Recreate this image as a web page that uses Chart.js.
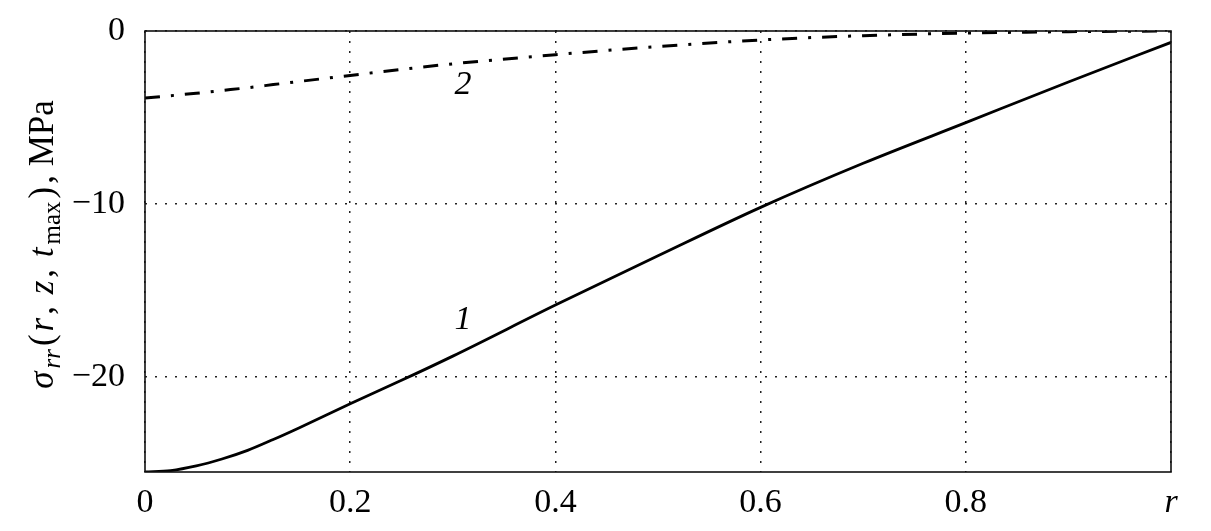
<!DOCTYPE html>
<html>
<head>
<meta charset="utf-8">
<script src="https://cdn.jsdelivr.net/npm/chart.js@4.4.0/dist/chart.umd.min.js"></script>
<style>
  html, body { margin: 0; padding: 0; background: #fff; }
  #wrap { width: 1211px; height: 531px; }
</style>
</head>
<body>
<div id="wrap"><canvas id="stressChart"></canvas></div>
<script>
// radius values (dimensionless)
const rValues = [0, 0.025, 0.05, 0.075, 0.1, 0.125, 0.15, 0.2, 0.25, 0.3, 0.4, 0.5, 0.6, 0.7, 0.8, 0.9, 1];
// curve 1, solid
const sigma1 = [-25.5, -25.42, -25.15, -24.75, -24.25, -23.62, -22.95, -21.55, -20.2, -18.8, -15.85, -13.0, -10.2, -7.65, -5.3, -2.95, -0.66];
// curve 2, dash-dot
const sigma2 = [-3.88, -3.74, -3.6, -3.44, -3.28, -3.1, -2.92, -2.57, -2.22, -1.9, -1.37, -0.9, -0.52, -0.27, -0.12, -0.04, 0];

const xTicks = [0, 0.2, 0.4, 0.6, 0.8, 1];
const yTicks = [-20, -10, 0];
const curveLabels = [
    { text: '1', r: 0.31, v: -16.7 },
    { text: '2', r: 0.31, v: -3.1 }
];

const serif = "'Liberation Serif', 'DejaVu Serif', serif";
const dotted = [2, 8];

function toPoints(vals) {
    return rValues.map((r, i) => ({ x: r, y: vals[i] }));
}

// no extra room for overflowing tick labels, the layout padding decides
function noOverflow(s) {
    s.paddingTop = 0;
    s.paddingBottom = 0;
    s.paddingLeft = 0;
    s.paddingRight = 0;
}

// box around the plot, labels of curves and the y title with subscripts
const decorPlugin = {
    id: 'decor',
    afterDatasetsDraw(chart) {
        const ctx = chart.ctx;
        const a = chart.chartArea;
        const xs = chart.scales.x, ys = chart.scales.y;

        ctx.save();
        ctx.strokeStyle = '#111';
        ctx.lineWidth = 1.6;
        ctx.strokeRect(a.left, a.top, a.right - a.left, a.bottom - a.top);

        ctx.fillStyle = '#000';
        ctx.font = 'italic 34px ' + serif;
        ctx.textAlign = 'center';
        ctx.textBaseline = 'middle';
        curveLabels.forEach(l => {
            ctx.fillText(l.text, xs.getPixelForValue(l.r), ys.getPixelForValue(l.v));
        });
        ctx.restore();

        // y axis title
        const parts = [
            { t: 'σ', it: true },
            { t: 'rr', it: true, sub: true },
            { t: '(' },
            { t: 'r', it: true },
            { t: ', ' },
            { t: 'z', it: true },
            { t: ', ' },
            { t: 't', it: true },
            { t: 'max', sub: true },
            { t: ')' },
            { t: ', MPa' }
        ];
        const fontOf = p => (p.it ? 'italic ' : '') + (p.sub ? '25px ' : '35px ') + serif;
        ctx.save();
        let total = 0;
        parts.forEach(p => { ctx.font = fontOf(p); p.w = ctx.measureText(p.t).width + 3; total += p.w; });
        ctx.translate(53, 243);
        ctx.rotate(-Math.PI / 2);
        ctx.textAlign = 'left';
        ctx.textBaseline = 'alphabetic';
        ctx.fillStyle = '#000';
        let x = -total / 2;
        parts.forEach(p => {
            ctx.font = fontOf(p);
            ctx.fillText(p.t, x, p.sub ? 7 : 0);
            x += p.w;
        });
        ctx.restore();
    }
};

new Chart(document.getElementById('stressChart'), {
    type: 'line',
    data: {
        datasets: [
            {
                label: '1',
                data: toPoints(sigma1),
                borderColor: '#000',
                borderWidth: 2.8,
                pointRadius: 0,
                cubicInterpolationMode: 'monotone',
                fill: false
            },
            {
                label: '2',
                data: toPoints(sigma2),
                borderColor: '#000',
                borderWidth: 3,
                borderDash: [15, 11, 3, 11],
                pointRadius: 0,
                cubicInterpolationMode: 'monotone',
                fill: false
            }
        ]
    },
    options: {
        responsive: true,
        maintainAspectRatio: false,
        animation: false,
        layout: { padding: { left: 0, right: 40, top: 31, bottom: 0 } },
        plugins: {
            legend: { display: false },
            tooltip: { enabled: false }
        },
        scales: {
            x: {
                type: 'linear',
                min: 0,
                max: 1,
                afterBuildTicks: s => { s.ticks = xTicks.map(v => ({ value: v })); },
                afterFit: s => { s.height = 59; noOverflow(s); },
                border: { display: false, dash: dotted },
                grid: {
                    drawTicks: false,
                    color: '#222',
                    lineWidth: 1.5
                },
                ticks: {
                    padding: 11,
                    color: '#000',
                    maxRotation: 0,
                    font: c => ({ family: serif, size: 34, style: c.tick && c.tick.value === 1 ? 'italic' : 'normal' }),
                    callback: v => v === 1 ? 'r' : (v === 0 ? '0' : String(v))
                }
            },
            y: {
                type: 'linear',
                min: -25.5,
                max: 0,
                afterBuildTicks: s => { s.ticks = yTicks.map(v => ({ value: v })); },
                afterFit: s => { s.width = 145; noOverflow(s); },
                border: { display: false, dash: dotted },
                grid: {
                    drawTicks: false,
                    color: '#222',
                    lineWidth: 1.5
                },
                ticks: {
                    padding: 20,
                    color: '#000',
                    font: { family: serif, size: 34 },
                    callback: v => v < 0 ? '\u2212' + Math.abs(v) : String(v)
                }
            }
        }
    },
    plugins: [decorPlugin]
});
</script>
</body>
</html>
